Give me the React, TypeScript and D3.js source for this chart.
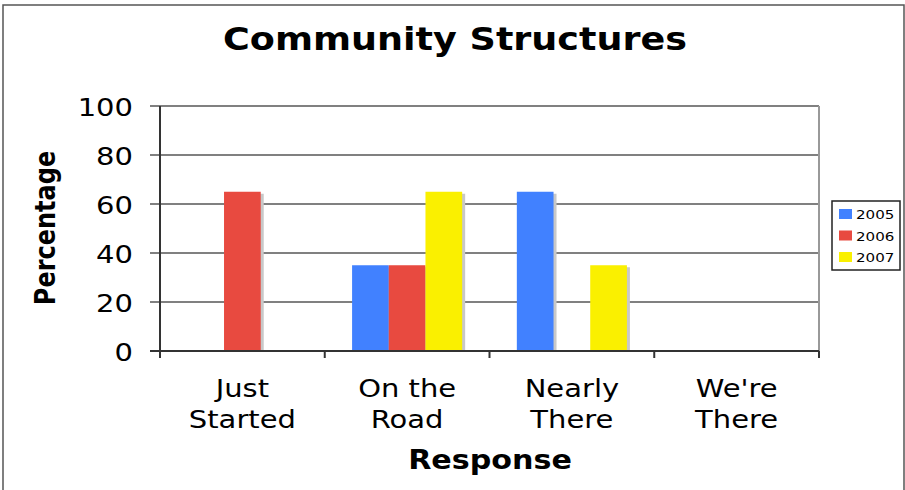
import React from "react";
import * as d3 from "d3";

const categories: string[][] = [["Just", "Started"], ["On the", "Road"], ["Nearly", "There"], ["We're", "There"]];
const seriesNames = ["2005", "2006", "2007"];
const values2005 = [0, 35, 65, 0];
const values2006 = [65, 35, 0, 0];
const values2007 = [0, 65, 35, 0];
const yTicks = [0, 20, 40, 60, 80, 100];
const colors = ["#4181FF", "#E84A40", "#FAF000"];

const seriesValues = [values2005, values2006, values2007];

const W = 905, H = 490;
const left = 160, right = 819, top = 106, bottom = 351;
const SX = 1.16;
const FONT = "'DejaVu Sans', Verdana, sans-serif";

function T({ x, y, size, bold = false, anchor = "middle", rotate = 0, children }: any) {
  return (
    <text
      transform={`translate(${x},${y}) scale(${SX},1)${rotate ? ` rotate(${rotate})` : ""}`}
      fontFamily={FONT}
      fontSize={size}
      fontWeight={bold ? "bold" : "normal"}
      textAnchor={anchor}
      fill="#000"
    >
      {children}
    </text>
  );
}

export default function App() {
  const keys = categories.map((c) => c.join(" "));
  const x0 = d3.scaleBand<string>().domain(keys).range([left, right]).paddingInner(0).paddingOuter(0);
  const x1 = d3.scaleBand<string>().domain(seriesNames).range([0, x0.bandwidth()]).paddingInner(0).paddingOuter(0.745);
  const y = d3.scaleLinear().domain([0, 100]).range([bottom, top]);

  return (
    <svg width={W} height={H} style={{ position: "absolute", left: 0, top: 0 }}>
      <rect x={0} y={0} width={W} height={H} fill="#fff" />
      <rect x={3} y={5} width={901} height={490} fill="none" stroke="#555" strokeWidth={1.5} />
      {/* gridlines */}
      {yTicks.map((t) => (
        <line key={t} x1={150} x2={right} y1={y(t)} y2={y(t)} stroke={t === 0 ? "#333" : "#808080"} strokeWidth={2} />
      ))}
      <line x1={right} x2={right} y1={top} y2={bottom} stroke="#999" strokeWidth={2} />
      {/* bars */}
      {keys.map((k, ci) => (
        <g key={k}>
          {seriesNames.map((s, si) => {
            const v = seriesValues[si][ci];
            if (!v) return null;
            const bx = (x0(k) as number) + (x1(s) as number);
            const bw = x1.bandwidth();
            return (
              <g key={s}>
                <rect x={bx + 3} y={y(v) + 2} width={bw} height={bottom - y(v) - 2} fill="#C8C8C8" />
                <rect x={bx} y={y(v)} width={bw} height={bottom - y(v)} fill={colors[si]} />
              </g>
            );
          })}
        </g>
      ))}
      {/* axes */}
      <line x1={left} x2={left} y1={top} y2={bottom + 7} stroke="#333" strokeWidth={2} />
      <line x1={150} x2={right} y1={bottom} y2={bottom} stroke="#333" strokeWidth={2} />
      {keys.map((k) => (
        <line key={k} x1={x0(k) as number} x2={x0(k) as number} y1={bottom} y2={bottom + 7} stroke="#333" strokeWidth={2} />
      ))}
      <line x1={right} x2={right} y1={bottom} y2={bottom + 7} stroke="#333" strokeWidth={2} />
      {/* y tick labels */}
      {yTicks.map((t) => (
        <T key={t} x={133} y={y(t) + 9.5} size={25} anchor="end">{t}</T>
      ))}
      {/* x labels */}
      {categories.map((c, i) => {
        const cx = (x0(keys[i]) as number) + x0.bandwidth() / 2;
        return (
          <g key={i}>
            <T x={cx} y={397} size={25}>{c[0]}</T>
            <T x={cx} y={428} size={25}>{c[1]}</T>
          </g>
        );
      })}
      {/* titles */}
      <T x={455} y={50} size={31.5} bold>Community Structures</T>
      <T x={490} y={469} size={26} bold>Response</T>
      <T x={55} y={228} size={24} bold rotate={-90}>Percentage</T>
      {/* legend */}
      <rect x={832} y={201} width={68} height={69} fill="#fff" stroke="#222" strokeWidth={1.5} />
      {seriesNames.map((s, i) => (
        <g key={s}>
          <rect x={839} y={209 + i * 21.5} width={13} height={10} fill={colors[i]} />
          <T x={856} y={219 + i * 21.5} size={13} anchor="start">{s}</T>
        </g>
      ))}
    </svg>
  );
}
